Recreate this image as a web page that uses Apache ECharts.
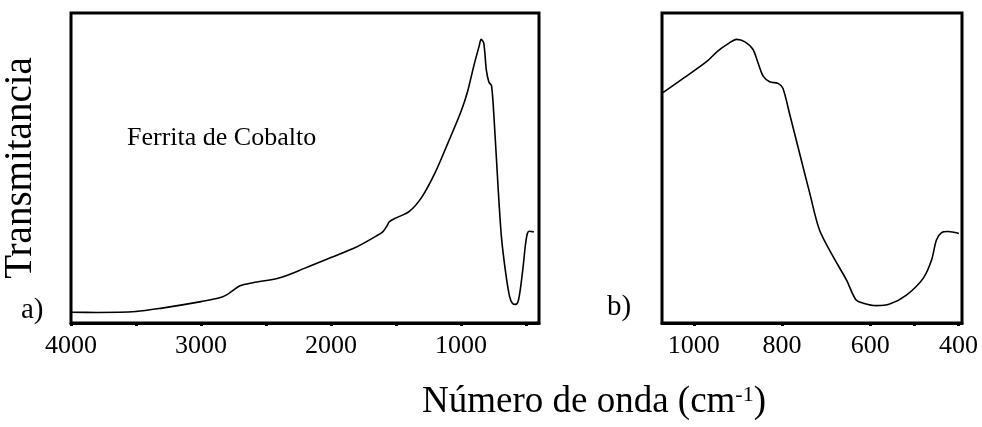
<!DOCTYPE html>
<html>
<head>
<meta charset="utf-8">
<script src="https://cdn.jsdelivr.net/npm/echarts@6/dist/echarts.min.js"></script>
<style>
  html, body { margin: 0; padding: 0; background: #fff; }
  #chart { width: 982px; height: 427px; }
</style>
</head>
<body>
<div id="chart"></div>
<script>
// FTIR spectrum of cobalt ferrite: full range (a) and detail of the low-wavenumber region (b)
// Each pair is [wavenumber (cm-1), transmittance (arbitrary units)]
const spectrumFull = [
  [4000, 3.45], [3800, 3.4], [3500, 3.7], [3300, 4.8], [3000, 6.9], [2850, 8.2],
  [2780, 9.7], [2700, 12.0], [2600, 13.0], [2400, 14.5], [2200, 17.7], [2000, 21.1],
  [1800, 24.6], [1650, 28.1], [1600, 29.5], [1570, 31.3], [1550, 32.7], [1500, 33.9],
  [1400, 35.9], [1300, 40.7], [1200, 48.4], [1100, 58.1], [1000, 68.2], [950, 74.6],
  [900, 83.2], [860, 89.4], [845, 91.5], [825, 90.3], [805, 81.6], [785, 77.7],
  [765, 76.5], [745, 65.5], [715, 44.0], [689, 27.8], [656, 16.1], [626, 8.5],
  [605, 6.4], [580, 6.0], [560, 7.1], [540, 12.0], [520, 19.0], [505, 25.0],
  [490, 28.8], [475, 29.6], [440, 29.4]
];
const spectrumDetail = [
  [1070, 74.3], [1024, 78.9], [971, 84.3], [945, 87.8], [920, 90.3], [903, 91.5],
  [884, 90.7], [866, 88.3], [854, 83.8], [843, 79.7], [828, 77.8], [809, 77.3],
  [798, 75.7], [783, 67.6], [760, 54.7], [737, 41.8], [715, 30.0], [684, 21.4],
  [654, 13.9], [633, 7.6], [616, 6.4], [586, 5.6], [556, 6.1], [518, 9.0],
  [480, 14.4], [461, 20.3], [450, 26.8], [439, 29.1], [424, 29.5], [399, 28.9]
];
const ticksFull = [4000, 3500, 3000, 2500, 2000, 1500, 1000, 500];
const labelsFull = [4000, 3000, 2000, 1000];
const ticksDetail = [1000, 800, 600, 500, 400];
const labelsDetail = [1000, 800, 600, 400];

const serif = 'Liberation Serif';
const chart = echarts.init(document.getElementById('chart'), null, { renderer: 'canvas' });

function xAxisFor(gridIndex, min, max, ticks, labels) {
  return {
    type: 'value', gridIndex, min, max, inverse: true,
    axisLine: { show: true, lineStyle: { color: '#000', width: 3 } },
    axisTick: { show: true, customValues: ticks, length: 3, lineStyle: { color: '#000', width: 3 } },
    axisLabel: {
      customValues: labels, showMinLabel: true, showMaxLabel: true,
      formatter: v => String(v),
      color: '#000', fontFamily: serif, fontSize: 26, margin: 10
    },
    splitLine: { show: false }
  };
}

function yAxisFor(gridIndex, name) {
  return {
    type: 'value', gridIndex, min: 0, max: 100,
    name, nameLocation: 'middle', nameGap: 31,
    nameTextStyle: { color: '#000', fontFamily: serif, fontSize: 39 },
    axisLine: { show: false }, axisTick: { show: false },
    axisLabel: { show: false }, splitLine: { show: false }
  };
}

const lineSeries = (idx, data) => ({
  type: 'line', xAxisIndex: idx, yAxisIndex: idx, data,
  smooth: 0.3, showSymbol: false, silent: true,
  lineStyle: { color: '#000', width: 1.6 }
});

chart.setOption({
  backgroundColor: '#fff',
  animation: false,
  grid: [
    { left: 68, top: 13, width: 471, height: 310, show: true, borderColor: '#000', borderWidth: 3 },
    { left: 662, top: 13, width: 300, height: 310, show: true, borderColor: '#000', borderWidth: 3 }
  ],
  xAxis: [
    xAxisFor(0, 400, 4000, ticksFull, labelsFull),
    xAxisFor(1, 392, 1072, ticksDetail, labelsDetail)
  ],
  yAxis: [yAxisFor(0, 'Transmitancia'), yAxisFor(1, '')],
  series: [lineSeries(0, spectrumFull), lineSeries(1, spectrumDetail)],
  graphic: [
    { type: 'text', left: 127, top: 125,
      style: { text: 'Ferrita de Cobalto', font: '26px "Liberation Serif"', fill: '#000' } },
    { type: 'text', left: 21, top: 296,
      style: { text: 'a)', font: '29px "Liberation Serif"', fill: '#000' } },
    { type: 'text', left: 607, top: 293,
      style: { text: 'b)', font: '29px "Liberation Serif"', fill: '#000' } },
    { type: 'text', left: 422, top: 384,
      style: {
        text: '{m|Número de onda (cm}{s|-1}{m|)}',
        rich: {
          m: { font: '37px "Liberation Serif"', fill: '#000' },
          s: { font: '22px "Liberation Serif"', fill: '#000', verticalAlign: 'top', padding: [0, 0, 14, 0] }
        }
      } }
  ]
});
</script>
</body>
</html>
